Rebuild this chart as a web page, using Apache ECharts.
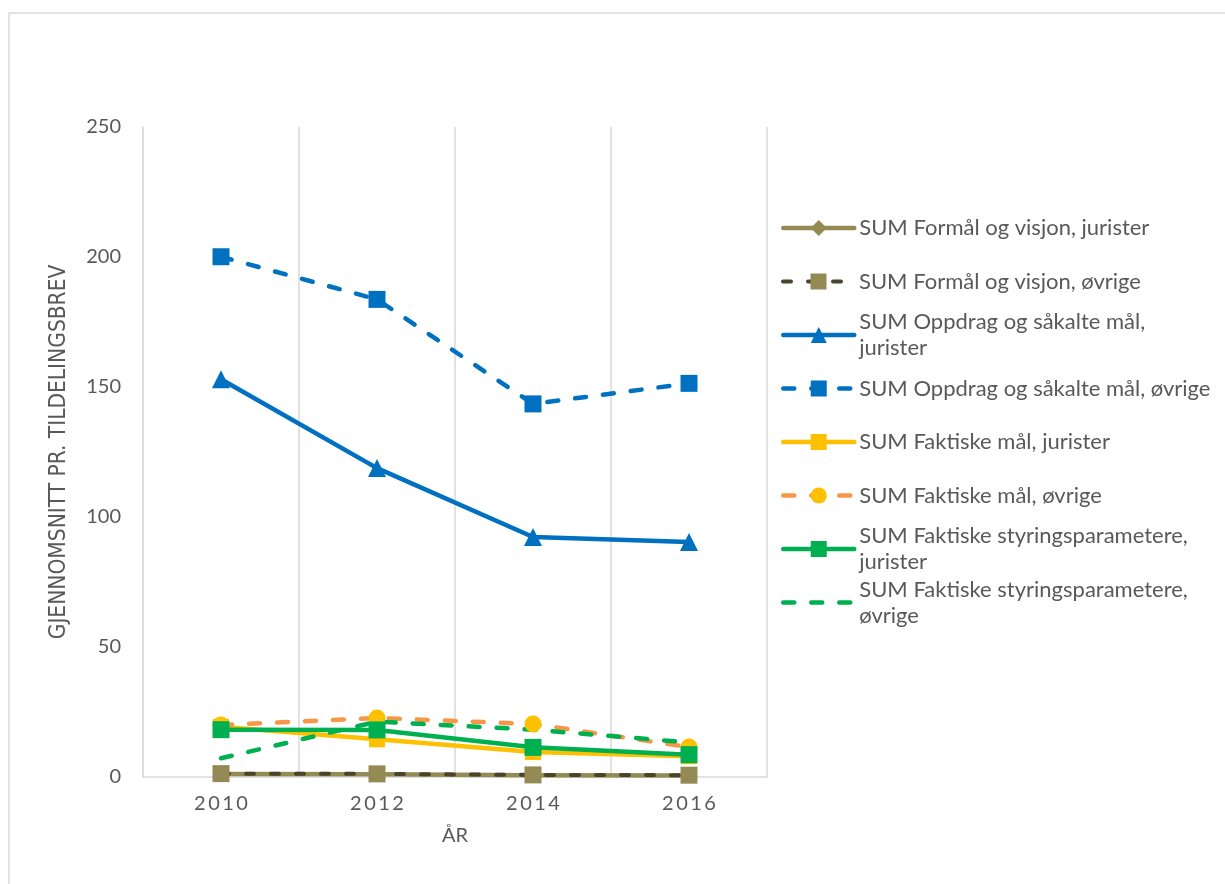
<!DOCTYPE html>
<html>
<head>
<meta charset="utf-8">
<script src="https://cdn.jsdelivr.net/npm/echarts@6/dist/echarts.min.js"></script>
<style>
  html, body { margin: 0; padding: 0; background: #ffffff; }
  #chart { width: 1225px; height: 884px; }
</style>
</head>
<body>
<div id="chart"></div>
<script>
// Years on the category axis
const years = ['2010', '2012', '2014', '2016'];

// Average per allocation letter, one array per series
const formalJurister = [1.2, 1.1, 0.7, 0.6];
const formalOvrige = [1.3, 1.2, 0.8, 0.7];
const oppdragJurister = [153, 118.8, 92.3, 90.4];
const oppdragOvrige = [200.1, 183.7, 143.5, 151.4];
const faktiskeMalJurister = [19.3, 14.5, 9.6, 8.0];
const faktiskeMalOvrige = [20.0, 22.7, 20.4, 11.5];
const styringJurister = [18.2, 18.1, 11.4, 8.6];
const styringOvrige = [7.2, 21.3, 18.2, 13.3];

// Series names (legend labels)
const names = [
  'SUM Formål og visjon, jurister',
  'SUM Formål og visjon, øvrige',
  'SUM Oppdrag og såkalte mål, jurister',
  'SUM Oppdrag og såkalte mål, øvrige',
  'SUM Faktiske mål, jurister',
  'SUM Faktiske mål, øvrige',
  'SUM Faktiske styringsparametere, jurister',
  'SUM Faktiske styringsparametere, øvrige'
];

// Legend text as it wraps in the legend box
const legendText = {
  'SUM Oppdrag og såkalte mål, jurister': 'SUM Oppdrag og såkalte mål,\njurister',
  'SUM Faktiske styringsparametere, jurister': 'SUM Faktiske styringsparametere,\njurister',
  'SUM Faktiske styringsparametere, øvrige': 'SUM Faktiske styringsparametere,\nøvrige'
};

const yAxisTitle = 'GJENNOMSNITT PR. TILDELINGSBREV';
const xAxisTitle = 'ÅR';

const TEXT = '#595959';
const GRID = '#D9D9D9';
const DASH = [11, 17];

function lineSeries(name, data, opts) {
  return {
    name: name,
    type: 'line',
    data: data,
    symbol: opts.symbol,
    symbolSize: opts.size || 16,
    showSymbol: !opts.noMarker,
    itemStyle: { color: opts.marker || opts.color },
    lineStyle: {
      color: opts.color,
      width: opts.width || 4.5,
      type: opts.dashed ? (opts.dash || DASH) : 'solid',
      cap: 'round',
      join: 'round'
    },
    emphasis: { disabled: true }
  };
}

const series = [
  lineSeries(names[0], formalJurister, { color: '#948A54', symbol: 'diamond', size: 15, width: 4.5 }),
  lineSeries(names[1], formalOvrige, { color: '#4A452A', marker: '#948A54', symbol: 'rect', size: 17, dashed: true, dash: [8, 17], width: 4 }),
  lineSeries(names[2], oppdragJurister, { color: '#0070C0', symbol: 'triangle', size: 18 }),
  lineSeries(names[3], oppdragOvrige, { color: '#0070C0', symbol: 'rect', size: 17, dashed: true }),
  lineSeries(names[4], faktiskeMalJurister, { color: '#FFC000', symbol: 'rect', size: 16 }),
  lineSeries(names[5], faktiskeMalOvrige, { color: '#F79646', marker: '#FFC000', symbol: 'circle', size: 17, dashed: true }),
  lineSeries(names[6], styringJurister, { color: '#00B050', symbol: 'rect', size: 17 }),
  lineSeries(names[7], styringOvrige, { color: '#00B050', symbol: 'rect', noMarker: true, dashed: true })
];

// One legend block per entry so that each row sits at a fixed pitch;
// wrapped entries keep their icon level with the first text line.
const ROW0 = 228, PITCH = 53.5, LINE_H = 26;
const legends = names.map(function (n, i) {
  const wrapped = !!legendText[n];
  const y = ROW0 + i * PITCH;
  const s = series[i];
  const item = { name: n };
  if (s.showSymbol === false) {
    // entry without markers: only the dashed line in the key
    item.itemStyle = { color: 'rgba(0,0,0,0)', borderWidth: 0, opacity: 0 };
  }
  return {
    data: [item],
    orient: 'vertical',
    left: 781,
    top: wrapped ? y - LINE_H * 1.5 : y - LINE_H / 2,
    padding: 0,
    itemWidth: 71,
    itemHeight: 20,
    itemGap: 6,
    selectedMode: false,
    lineStyle: { width: s.lineStyle.width },
    formatter: function (name) { return legendText[name] || name; },
    textStyle: {
      color: TEXT,
      fontFamily: 'Lato',
      fontSize: 22,
      lineHeight: LINE_H,
      padding: wrapped ? [LINE_H, 0, 0, 0] : 0
    }
  };
});

const chart = echarts.init(document.getElementById('chart'), null, { renderer: 'canvas' });

chart.setOption({
  animation: false,
  backgroundColor: '#ffffff',
  graphic: [{
    type: 'rect',
    silent: true,
    shape: { x: 9, y: 13, width: 1240, height: 900 },
    style: { fill: 'none', stroke: GRID, lineWidth: 1.5 },
    z: -1
  }],
  grid: { left: 143, right: 458, top: 127, bottom: 107, containLabel: false },
  legend: legends,
  xAxis: {
    type: 'category',
    data: years,
    boundaryGap: true,
    name: xAxisTitle,
    nameLocation: 'middle',
    nameGap: 49,
    nameTextStyle: { color: TEXT, fontFamily: 'Lato', fontSize: 20 },
    axisLine: { show: true, lineStyle: { color: GRID, width: 1.5 } },
    axisTick: { show: false },
    splitLine: { show: true, lineStyle: { color: GRID, width: 1.5 } },
    axisLabel: {
      color: TEXT,
      fontFamily: 'Lato',
      fontSize: 20,
      margin: 17,
      formatter: function (v) { return v.split('').join('\u2009'); }
    }
  },
  yAxis: {
    type: 'value',
    min: 0,
    max: 250,
    interval: 50,
    name: yAxisTitle,
    nameLocation: 'middle',
    nameGap: 72,
    nameTextStyle: { color: TEXT, fontFamily: '"DejaVu Sans Condensed", Roboto, sans-serif', fontSize: 22.5 },
    axisLine: { show: true, lineStyle: { color: GRID, width: 1.5 } },
    axisTick: { show: false },
    splitLine: { show: false },
    axisLabel: { color: TEXT, fontFamily: 'Lato', fontSize: 20, margin: 22 }
  },
  series: series
});
</script>
</body>
</html>
